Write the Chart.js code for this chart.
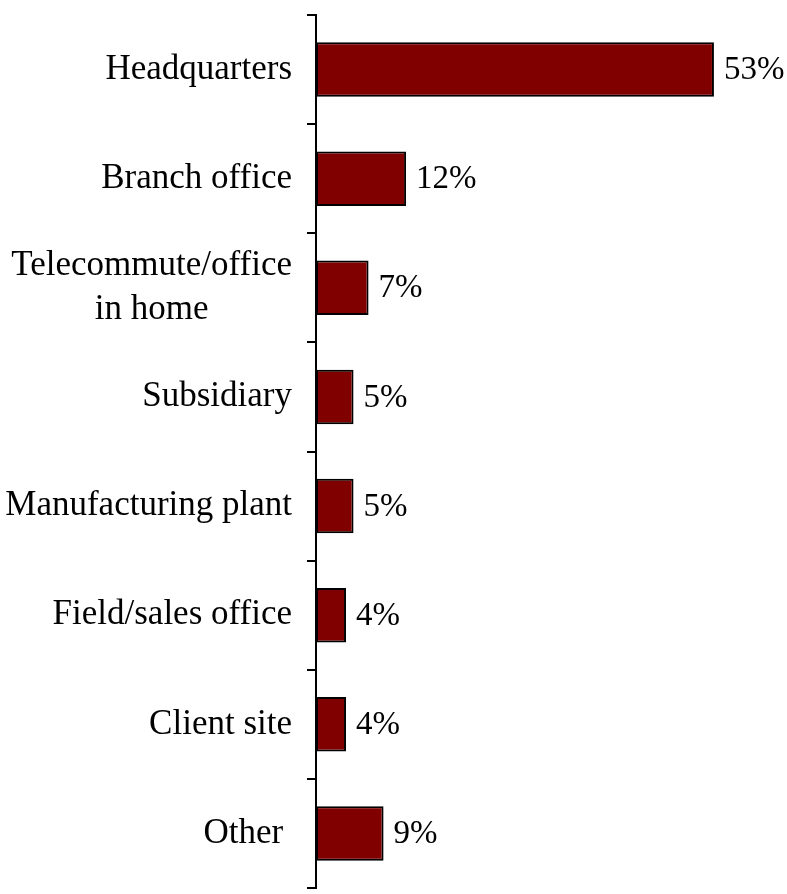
<!DOCTYPE html>
<html>
<head>
<meta charset="utf-8">
<script src="https://cdn.jsdelivr.net/npm/chart.js@4"></script>
<style>
  body { margin: 0; background: #fff; }
  #wrap { width: 787px; height: 894px; }
</style>
</head>
<body>
<div id="wrap"><canvas id="locChart" width="787" height="894"></canvas></div>
<script>
// where respondents work
const categories = [
  'Headquarters',
  'Branch office',
  ['Telecommute/office', 'in home'],
  'Subsidiary',
  'Manufacturing plant',
  'Field/sales office',
  'Client site',
  'Other '
]
const percents = [53, 12, 7, 5, 5, 4, 4, 9]

const FONT = '35px "Liberation Serif", "Times New Roman", serif'
const VALUE_FONT = '33px "Liberation Serif", "Times New Roman", serif'
const LINE_H = 44

// category names, right aligned block, lines centred inside the block
const catLabels = {
  id: 'catLabels',
  afterDraw(chart) {
    const ctx = chart.ctx
    const y = chart.scales.y
    ctx.save()
    ctx.font = FONT
    ctx.fillStyle = '#000'
    ctx.textBaseline = 'middle'
    ctx.textAlign = 'center'
    const right = y.right - 9 - 15
    categories.forEach(function(lab, i){
      const lines = Array.isArray(lab) ? lab : [lab]
      const widest = Math.max.apply(null, lines.map(l => ctx.measureText(l).width))
      const cx = right - widest / 2
      const yc = y.getPixelForValue(i)
      lines.forEach(function(l, k){
        ctx.fillText(l, cx, yc - (lines.length - 1) * LINE_H / 2 + k * LINE_H)
      })
    })
    ctx.restore()
  }
}

// percentage next to each bar
const valueLabels = {
  id: 'valueLabels',
  afterDatasetsDraw(chart) {
    const ctx = chart.ctx
    const meta = chart.getDatasetMeta(0)
    ctx.save()
    ctx.font = VALUE_FONT
    ctx.fillStyle = '#000'
    ctx.textBaseline = 'middle'
    ctx.textAlign = 'left'
    meta.data.forEach(function(bar, i){
      ctx.fillText(percents[i] + '%', bar.x + 10, bar.y + 1)
    })
    ctx.restore()
  }
}

const ctxLoc = document.getElementById('locChart')

new Chart(ctxLoc, {
  type: 'bar',
  data: {
    labels: categories,
    datasets: [{
      data: percents,
      backgroundColor: '#800000',
      borderColor: '#000',
      borderWidth: 2,
      borderSkipped: false,
      barPercentage: 0.5,
      categoryPercentage: 1
    }]
  },
  options: {
    indexAxis: 'y',
    responsive: false,
    animation: false,
    layout: { padding: { top: 15, bottom: 6, left: 0, right: 20.5 } },
    plugins: {
      legend: { display: false },
      tooltip: { enabled: false }
    },
    scales: {
      x: {
        display: false,
        min: 0,
        max: 60
      },
      y: {
        afterFit(scale) { scale.width = 316 },
        border: { display: true, color: '#000', width: 2 },
        grid: {
          offset: true,
          drawOnChartArea: false,
          drawTicks: true,
          tickLength: 9,
          color: '#000',
          lineWidth: 2
        },
        ticks: { display: false }
      }
    }
  },
  plugins: [catLabels, valueLabels]
})
</script>
</body>
</html>
